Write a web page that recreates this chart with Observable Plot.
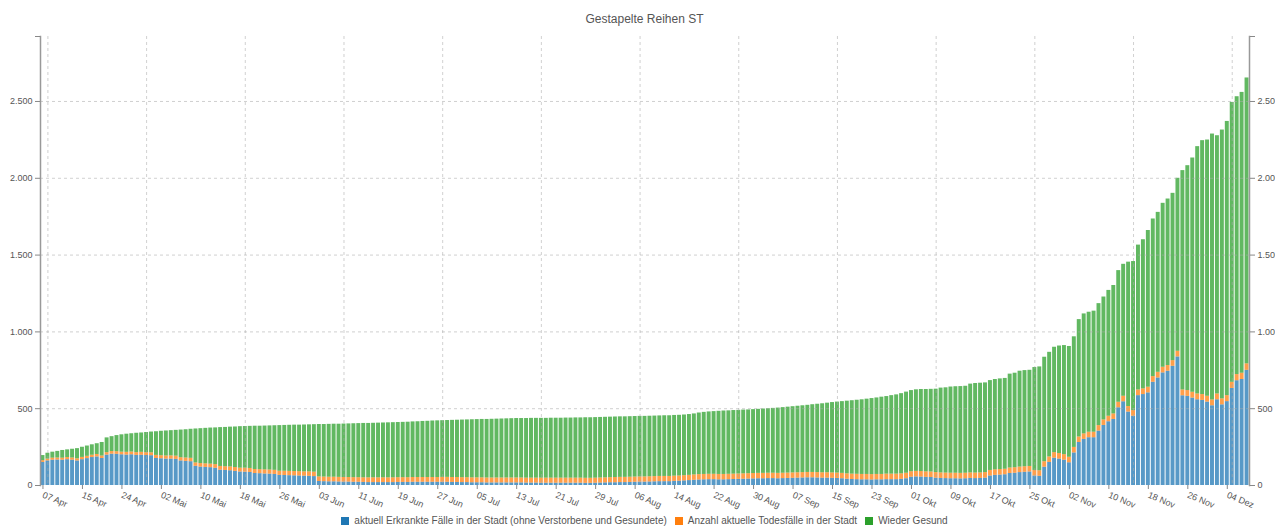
<!DOCTYPE html>
<html>
<head>
<meta charset="utf-8">
<script src="https://cdn.jsdelivr.net/npm/d3@7"></script>
<script src="https://cdn.jsdelivr.net/npm/@observablehq/plot@0.6"></script>
<style>
  html, body { margin: 0; padding: 0; background: #fff; }
  body { width: 1275px; height: 528px; overflow: hidden; font-family: "Liberation Sans", Arial, sans-serif; }
  #title { height: 30px; box-sizing: border-box; padding: 12px 26px 0 40px; text-align: center; font-size: 12px; line-height: 14px; color: #555; }
  #chart { height: 478px; }
  #legend { height: 20px; box-sizing: border-box; padding: 6px 26px 0 40px; display: flex; justify-content: center; align-items: center; font-size: 10px; line-height: 12px; color: #555; }
  #legend .item { display: flex; align-items: center; margin: 0 4px; }
  #legend .sw { width: 8px; height: 8px; margin-right: 5px; }
</style>
</head>
<body>
<div id="title">Gestapelte Reihen ST</div>
<div id="chart"></div>
<div id="legend"></div>
<script>
// ---- Data -------------------------------------------------------------
const seriesNames = [
  "aktuell Erkrankte Fälle in der Stadt (ohne Verstorbene und Gesundete)",
  "Anzahl aktuelle Todesfälle in der Stadt",
  "Wieder Gesund"
];
const seriesColors = ["#1f77b4", "#ff7f0e", "#2ca02c"];

// Categories: daily reports 07 Apr – 08 Dez (one day, 19 Apr, has no report)
const monthNames = ["Jan","Feb","Mär","Apr","Mai","Jun","Jul","Aug","Sep","Okt","Nov","Dez"];
const missingDays = ["2020-04-19"];
const fmtKey = d3.timeFormat("%Y-%m-%d");
const categories = d3.timeDay.range(new Date(2020, 3, 7), new Date(2020, 11, 9))
  .filter(d => !missingDays.includes(fmtKey(d)))
  .map(d => d3.timeFormat("%d")(d) + " " + monthNames[d.getMonth()]);

const xTickLabels = ["07 Apr","15 Apr","24 Apr","02 Mai","10 Mai","18 Mai","26 Mai","03 Jun","11 Jun","19 Jun",
  "27 Jun","05 Jul","13 Jul","21 Jul","29 Jul","06 Aug","14 Aug","22 Aug","30 Aug","07 Sep","15 Sep","23 Sep",
  "01 Okt","09 Okt","17 Okt","25 Okt","02 Nov","10 Nov","18 Nov","26 Nov","04 Dez"];
const gridLabels = ["08 Apr","29 Apr","19 Mai","08 Jun","28 Jun","18 Jul","07 Aug","27 Aug","16 Sep","06 Okt","26 Okt","15 Nov","05 Dez"];
const yTicks = [0, 500, 1000, 1500, 2000, 2500];
const yMax = 2923;

const aktuell = [
  150,160,165,166,165,168,165,160,168,175,182,186,176,198,204,203,200,198,200,196,197,195,194,176,174,
  172,172,170,160,157,155,125,120,118,116,112,100,98,96,92,88,87,85,78,77,75,74,72,66,65,64,63,62,61,60,58,
  26,25,24,24,23,22,22,21,21,20,
  19,19,19,19,19,19,20,20,20,21,21,21,21,21,21,
  21,21,20,20,19,19,18,18,18,17,17,17,17,17,17,17,17,16,16,16,
  15,15,15,15,15,15,15,15,15,14,14,15,16,17,18,
  18,19,19,20,21,22,22,23,24,25,25,25,27,28,30,32,
  34,36,37,38,38,37,37,38,39,40,
  41,42,43,44,44,45,45,44,45,46,
  47,48,49,50,50,49,48,48,47,46,
  44,41,39,38,37,37,36,37,37,38,
  38,38,40,44,54,56,55,53,52,48,
  46,45,44,44,43,44,46,45,46,48,
  62,66,68,70,78,80,84,86,88,62,
  60,119,150,178,172,165,148,212,280,
  300,311,311,354,391,415,430,506,545,478,
  451,585,592,603,672,700,733,744,776,837,
  584,580,569,558,554,543,519,558,525,546,
  632,682,690,750
];
const todesfaelle = [
  12,12,13,13,13,14,14,14,15,15,15,16,16,16,17,17,17,18,18,18,19,19,19,20,20,
  20,21,21,21,22,22,22,23,23,23,24,24,24,25,25,25,26,26,26,26,27,27,27,27,28,28,28,28,28,29,29,
  30,30,30,30,30,30,30,30,30,30,
  31,31,31,31,31,31,31,31,31,31,31,31,31,31,31,
  32,32,32,32,32,32,32,32,32,32,32,32,32,32,32,32,32,32,32,32,
  33,33,33,33,33,33,33,33,33,33,33,33,33,33,33,
  34,34,34,34,34,34,34,34,34,34,34,34,34,34,34,34,
  35,35,35,35,35,35,35,35,35,35,
  35,35,35,35,35,35,35,35,35,35,
  35,35,35,35,35,35,35,35,35,35,
  35,35,35,35,35,35,35,35,35,36,
  36,36,36,36,36,36,36,36,36,36,
  36,36,36,36,36,36,36,36,36,36,
  36,36,36,36,36,36,36,36,36,36,
  36,36,36,36,36,36,36,36,36,
  36,36,36,36,36,36,36,36,36,36,
  37,37,37,37,37,37,37,37,37,37,
  38,38,38,38,38,38,38,38,39,39,
  40,40,41,42
];
const gesund = [
  33,38,39,43,50,50,57,66,66,67,68,70,88,96,97,105,113,118,119,126,126,131,135,154,159,
  163,164,168,180,184,189,221,227,231,235,239,253,256,259,264,270,271,274,282,283,285,287,290,297,298,300,302,303,305,306,309,
  341,342,344,345,346,348,349,351,352,354,
  354,355,356,357,358,359,359,360,361,362,363,365,366,368,369,
  369,370,372,373,375,376,378,379,380,381,382,383,384,385,386,387,387,388,389,389,
  389,389,390,390,390,391,391,392,392,394,394,394,394,394,394,
  394,394,394,394,394,394,394,394,394,394,395,395,395,395,395,396,
  397,401,404,406,408,411,413,413,414,414,
  415,415,416,417,419,420,422,425,427,429,
  431,433,435,437,441,445,449,453,458,462,
  467,473,478,482,486,490,495,498,503,505,
  511,516,522,528,528,531,534,536,538,543,
  552,555,561,563,565,566,578,583,584,584,
  585,588,590,591,611,615,624,626,626,670,
  676,680,681,686,700,710,721,720,764,
  781,781,788,794,800,819,836,857,859,940,
  970,943,971,1020,1026,1041,1067,1084,1089,1126,
  1428,1464,1525,1610,1653,1668,1731,1681,1750,1785,
  1822,1809,1828,1861
];

// ---- Table for Plot ---------------------------------------------------
const seriesValues = [aktuell, todesfaelle, gesund];
const rows = [];
categories.forEach((c, i) => {
  seriesNames.forEach((s, k) => rows.push({date: c, series: s, value: seriesValues[k][i]}));
});

const deFormat = d3.formatLocale({decimal: ",", thousands: ".", grouping: [3], currency: ["", " €"]}).format(",d");

const axisStyle = {fontSize: 9, fill: "#555", stroke: "#888", label: null};

const chart = Plot.plot({
  width: 1275,
  height: 478,
  marginTop: 6,
  marginBottom: 23,
  marginLeft: 40,
  marginRight: 26,
  style: {fontFamily: "Liberation Sans, Arial, sans-serif", background: "#fff", overflow: "visible"},
  x: {type: "band", domain: categories, paddingInner: 0.2, paddingOuter: 0.1},
  y: {domain: [0, yMax]},
  color: {domain: seriesNames, range: seriesColors},
  marks: [
    Plot.barY(rows, {x: "date", y: "value", fill: "series", order: seriesNames, fillOpacity: 0.75}),
    Plot.ruleY(yTicks.slice(1), {stroke: "#aaa", strokeOpacity: 0.55, strokeDasharray: "3,3"}),
    Plot.ruleX(gridLabels, {stroke: "#aaa", strokeOpacity: 0.55, strokeDasharray: "3,3"}),
    Plot.frame({anchor: "left", stroke: "#999", strokeWidth: 1.5}),
    Plot.frame({anchor: "right", stroke: "#999", strokeWidth: 1.5}),
    Plot.axisY({anchor: "left", ticks: yTicks, tickFormat: deFormat, tickSize: 5, tickPadding: 3, ...axisStyle}),
    Plot.axisY({anchor: "right", ticks: yTicks, tickFormat: deFormat, tickSize: 5, tickPadding: 3, ...axisStyle}),
    Plot.axisY({anchor: "left", ticks: [yMax], tickFormat: () => "", tickSize: 5, ...axisStyle}),
    Plot.axisY({anchor: "right", ticks: [yMax], tickFormat: () => "", tickSize: 5, ...axisStyle}),
    Plot.axisX({ticks: xTickLabels, tickRotate: 23, tickSize: 4, tickPadding: 5, ...axisStyle})
  ]
});
document.getElementById("chart").appendChild(chart);

// ---- Legend -----------------------------------------------------------
const legend = d3.select("#legend");
seriesNames.forEach((s, k) => {
  const it = legend.append("div").attr("class", "item");
  it.append("div").attr("class", "sw").style("background", seriesColors[k]);
  it.append("span").text(s);
});
</script>
</body>
</html>
